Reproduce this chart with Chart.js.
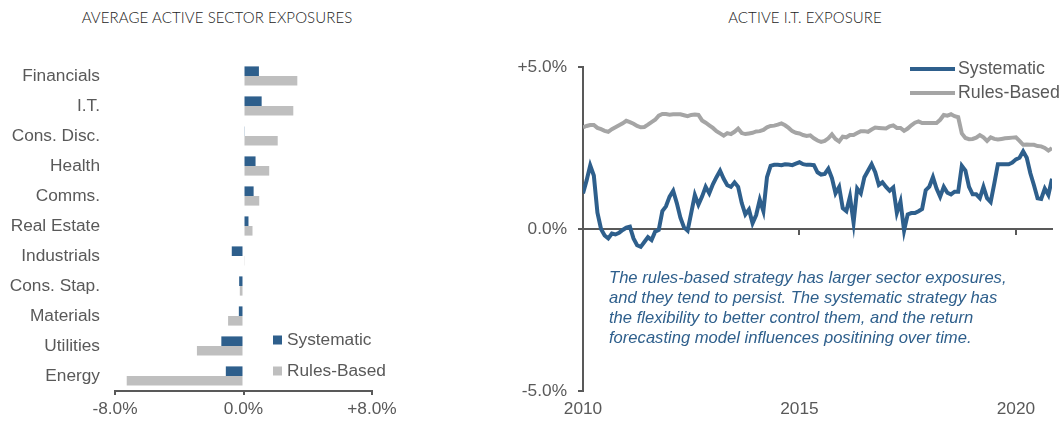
<!DOCTYPE html>
<html>
<head>
<meta charset="utf-8">
<script src="https://cdn.jsdelivr.net/npm/chart.js@4.4.1/dist/chart.umd.min.js"></script>
<style>
  body { margin: 0; width: 1063px; height: 421px; background: #fff; position: relative; overflow: hidden; }
  .titulo { position: absolute; top: 8px; text-align: center; font-family: Lato, "Liberation Sans", sans-serif; font-weight: 300; font-size: 15px; color: #222; letter-spacing: 0.1px; }
  .caixa { position: absolute; top: 0; height: 421px; }
  .nota { position: absolute; left: 609px; top: 268px; font-family: "Liberation Sans", Arial, sans-serif; font-style: italic; font-size: 16.6px; line-height: 20px; color: #2E5F8C; white-space: nowrap; }
</style>
</head>
<body>
<div class="titulo" style="left:0; width:434px">AVERAGE ACTIVE SECTOR EXPOSURES</div>
<div class="titulo" style="left:610px; width:390px">ACTIVE I.T. EXPOSURE</div>
<div class="caixa" style="left:0; width:440px"><canvas id="setores"></canvas></div>
<div class="caixa" style="left:500px; width:563px"><canvas id="exposicao"></canvas></div>
<div class="nota">The rules-based strategy has larger sector exposures,<br>and they tend to persist. The systematic strategy has<br>the flexibility to better control them, and the return<br>forecasting model influences positining over time.</div>
<script>
const setores = ['Financials', 'I.T.', 'Cons. Disc.', 'Health', 'Comms.', 'Real Estate', 'Industrials', 'Cons. Stap.', 'Materials', 'Utilities', 'Energy']
const sistematicoMedia = [0.96, 1.13, 0.05, 0.75, 0.63, 0.31, -0.73, -0.27, -0.29, -1.38, -1.1]
const regrasMedia = [3.35, 3.1, 2.13, 1.6, 0.98, 0.56, 0.05, -0.23, -0.96, -2.9, -7.27]
const ticksSetores = [-8, 0, 8]

// monthly, Jan 2010 to Nov 2020
const anoInicial = 2010
const sistematicoTI = [
    1.10, 1.5, 1.96, 1.65, 0.5, 0.0, -0.2, -0.29, -0.14, -0.17, -0.12, -0.03,
    0.04, 0.07, -0.29, -0.5, -0.55, -0.4, -0.25, -0.34, -0.08, -0.03, 0.55, 0.7,
    1.0, 1.18, 0.8, 0.35, 0.05, -0.05, 0.5, 1.05, 0.75, 1.0, 1.3, 1.1,
    1.38, 1.6, 1.8, 1.55, 1.35, 1.3, 1.44, 1.3, 0.8, 0.45, 0.6, 0.18,
    0.43, 0.9, 0.55, 1.6, 1.95, 1.98, 1.98, 1.97, 2.0, 1.99, 1.97, 2.02,
    2.06, 2.0, 1.98, 1.98, 1.97, 1.75, 1.68, 1.7, 1.86, 1.57, 1.1, 1.3,
    0.64, 0.55, 1.0, 0.2, 1.25, 1.1, 1.6, 1.8, 2.0, 1.75, 1.36, 1.44,
    1.3, 1.18, 1.28, 0.5, 0.85, -0.05, 0.45, 0.49, 0.49, 0.55, 0.62, 1.2,
    1.31, 1.6, 1.25, 1.0, 1.3, 1.12, 1.07, 1.15, 1.15, 1.95, 1.8, 1.3,
    1.07, 1.07, 0.95, 1.3, 0.95, 0.83, 1.4, 2.0, 2.0, 2.0, 2.0, 2.05,
    2.15, 2.2, 2.4, 2.2, 1.72, 1.35, 0.95, 0.93, 1.25, 1.05, 1.55
]
const regrasTI = [
    3.14, 3.18, 3.21, 3.21, 3.12, 3.08, 3.03, 3.0, 3.08, 3.14, 3.2, 3.26,
    3.34, 3.3, 3.25, 3.18, 3.14, 3.15, 3.22, 3.3, 3.37, 3.5, 3.55, 3.55,
    3.53, 3.54, 3.54, 3.54, 3.51, 3.48, 3.52, 3.53, 3.52, 3.35, 3.28, 3.2,
    3.12, 3.02, 2.95, 2.88, 2.96, 2.93, 3.0, 3.1, 2.96, 2.93, 2.95, 2.97,
    3.01, 3.02, 3.06, 3.14, 3.18, 3.19, 3.22, 3.26, 3.2, 3.12, 3.02, 2.97,
    2.95, 2.9, 2.87, 2.89, 2.8, 2.73, 2.69, 2.72, 2.8, 2.92, 2.78, 2.7,
    2.85, 2.83, 2.9, 2.9, 2.96, 3.02, 3.02, 3.0, 3.07, 3.13, 3.12, 3.11,
    3.1, 3.17, 3.2, 3.12, 3.12, 3.03, 3.1, 3.2, 3.28, 3.32, 3.27, 3.27,
    3.27, 3.27, 3.27, 3.37, 3.52, 3.5, 3.54, 3.48, 3.45, 2.95, 2.81, 2.77,
    2.78, 2.82, 2.9, 2.83, 2.72, 2.83, 2.78, 2.76, 2.78, 2.8, 2.81, 2.82,
    2.83, 2.72, 2.6, 2.61, 2.6, 2.6, 2.56, 2.55, 2.5, 2.42, 2.5
]
const ticksTI = [-5, 0, 5]
const ticksAnos = [2010, 2015, 2020]

const AZUL = '#2E5F8C'
const CINZA_BARRA = '#BFBFBF'
const CINZA_LINHA = '#A5A5A5'
const TEXTO = '#595959'
const FONTE = '"Liberation Sans", Arial, sans-serif'
const TAM = 17.3

Chart.defaults.font.family = FONTE
Chart.defaults.font.size = TAM
Chart.defaults.color = TEXTO

function pct(v) {
    let s = v.toFixed(1) + '%'
    return v > 0 ? '+' + s : s
}

const legendaBarras = {
    id: 'legendaBarras',
    afterDraw(chart) {
        const ctx = chart.ctx
        ctx.save()
        ctx.font = TAM + 'px ' + FONTE
        ctx.textBaseline = 'middle'
        chart.data.datasets.forEach((ds, i) => {
            let y = 340 + i * 31
            ctx.fillStyle = ds.backgroundColor
            ctx.fillRect(273, y - 4.5, 9, 9)
            ctx.fillStyle = TEXTO
            ctx.fillText(ds.label, 287, y)
        })
        ctx.restore()
    }
}

const legendaLinhas = {
    id: 'legendaLinhas',
    afterDraw(chart) {
        const ctx = chart.ctx
        ctx.save()
        ctx.font = '17.8px ' + FONTE
        ctx.textBaseline = 'middle'
        chart.data.datasets.forEach((ds, i) => {
            let y = 69 + i * 24
            ctx.strokeStyle = ds.borderColor
            ctx.lineWidth = 4
            ctx.beginPath()
            ctx.moveTo(410, y)
            ctx.lineTo(455, y)
            ctx.stroke()
            ctx.fillStyle = TEXTO
            ctx.fillText(ds.label, 458, y)
        })
        ctx.restore()
    }
}

window.onload = () => {
    new Chart(document.getElementById('setores').getContext('2d'), {
        type: 'bar',
        data: {
            labels: setores,
            datasets: [
                { label: 'Systematic', data: sistematicoMedia, backgroundColor: AZUL },
                { label: 'Rules-Based', data: regrasMedia, backgroundColor: CINZA_BARRA }
            ]
        },
        options: {
            indexAxis: 'y',
            responsive: true,
            maintainAspectRatio: false,
            animation: false,
            categoryPercentage: 0.64,
            barPercentage: 1,
            layout: { padding: { top: 61, right: 68, left: 0, bottom: 0 } },
            plugins: { legend: { display: false }, tooltip: { enabled: false } },
            scales: {
                x: {
                    min: -8, max: 8,
                    afterBuildTicks: s => { s.ticks = ticksSetores.map(v => ({ value: v })) },
                    afterFit: s => { s.height = 30 },
                    ticks: { callback: v => pct(v), padding: 4, maxRotation: 0 },
                    grid: { drawOnChartArea: false, tickLength: 4, color: TEXTO, lineWidth: 2 },
                    border: { color: TEXTO, width: 2 }
                },
                y: {
                    afterFit: s => { s.width = 115 },
                    ticks: { padding: 15 },
                    grid: { display: false, drawTicks: false },
                    border: { display: false }
                }
            }
        },
        plugins: [legendaBarras]
    })

    const pontos = serie => serie.map((v, i) => ({ x: anoInicial + i / 12, y: v }))
    const fimX = anoInicial + (sistematicoTI.length - 1) / 12

    new Chart(document.getElementById('exposicao').getContext('2d'), {
        type: 'line',
        data: {
            datasets: [
                { label: 'Systematic', data: pontos(sistematicoTI), borderColor: AZUL, borderWidth: 4, pointRadius: 0, tension: 0 },
                { label: 'Rules-Based', data: pontos(regrasTI), borderColor: CINZA_LINHA, borderWidth: 4, pointRadius: 0, tension: 0 }
            ]
        },
        options: {
            responsive: true,
            maintainAspectRatio: false,
            animation: false,
            layout: { padding: { top: 67, right: 11, left: 0, bottom: 0 } },
            plugins: { legend: { display: false }, tooltip: { enabled: false } },
            scales: {
                x: {
                    type: 'linear', min: anoInicial, max: fimX,
                    afterBuildTicks: s => { s.ticks = ticksAnos.map(v => ({ value: v })) },
                    afterFit: s => { s.height = 30 },
                    ticks: { callback: v => String(v), padding: 8, maxRotation: 0 },
                    grid: { display: false, drawTicks: false },
                    border: { display: false }
                },
                zero: {
                    type: 'linear', axis: 'x', position: { y: 0 }, min: anoInicial, max: fimX,
                    afterBuildTicks: s => { s.ticks = ticksAnos.map(v => ({ value: v })) },
                    ticks: { display: false },
                    grid: { drawOnChartArea: false, tickLength: 5, color: TEXTO, lineWidth: 2 },
                    border: { color: TEXTO, width: 2 }
                },
                y: {
                    min: -5, max: 5,
                    afterBuildTicks: s => { s.ticks = ticksTI.map(v => ({ value: v })) },
                    afterFit: s => { s.width = 83 },
                    ticks: { callback: v => pct(v), padding: 11 },
                    grid: { drawOnChartArea: false, tickLength: 5, color: TEXTO, lineWidth: 2 },
                    border: { color: TEXTO, width: 2 }
                }
            }
        },
        plugins: [legendaLinhas]
    })
}
</script>
</body>
</html>
